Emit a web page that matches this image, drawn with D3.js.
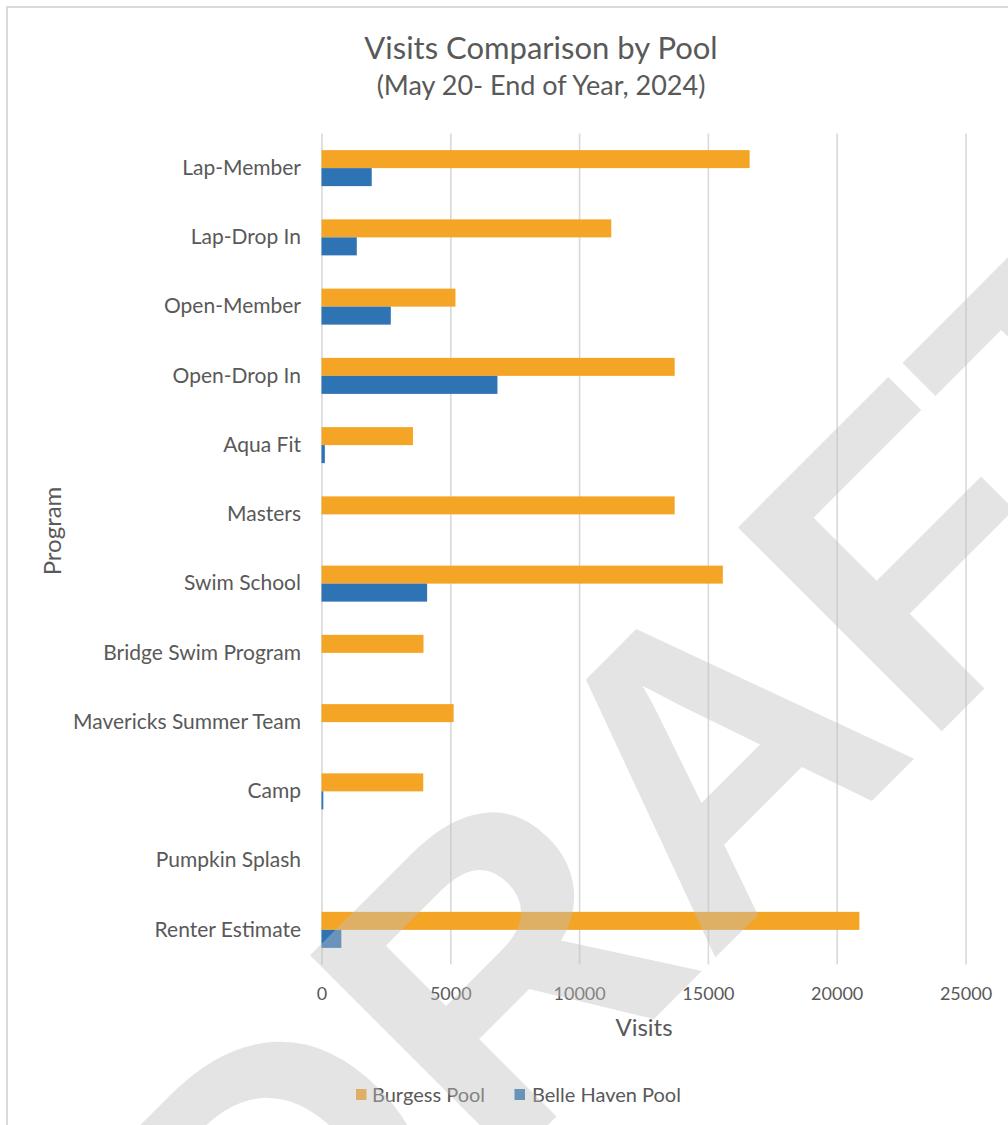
<!DOCTYPE html>
<html>
<head>
<meta charset="utf-8">
<script src="https://cdn.jsdelivr.net/npm/d3@7"></script>
<style>
  html, body { margin: 0; padding: 0; background: #fff; overflow: hidden; }
  svg { display: block; }
  text { font-family: Lato, "Noto Sans", sans-serif; fill: #595959; }
</style>
</head>
<body>
<script>
// Program visit counts, May 20 through end of 2024
const categories = [
  "Lap-Member", "Lap-Drop In", "Open-Member", "Open-Drop In", "Aqua Fit",
  "Masters", "Swim School", "Bridge Swim Program", "Mavericks Summer Team",
  "Camp", "Pumpkin Splash", "Renter Estimate"
];
const seriesNames = ["Burgess Pool", "Belle Haven Pool"];
const burgessVisits = [16620, 11250, 5200, 13710, 3550, 13710, 15580, 3960, 5130, 3950, 0, 20880];
const belleHavenVisits = [1950, 1370, 2690, 6830, 130, 0, 4100, 0, 0, 70, 0, 770];
const xTicks = [0, 5000, 10000, 15000, 20000, 25000];

const W = 1008, H = 1125;
const colors = { "Burgess Pool": "#F5A526", "Belle Haven Pool": "#2E74B5" };
const plot = { left: 321.5, right: 965.5, top: 133.5, bottom: 964.5 };

const svg = d3.select("body").append("svg").attr("width", W).attr("height", H);

// chart frame
svg.append("path")
  .attr("d", `M7,${H} L7,7 L${W},7`)
  .attr("fill", "none").attr("stroke", "#d9d9d9").attr("stroke-width", 2);

const g = svg.append("g");

const x = d3.scaleLinear().domain([0, 25000]).range([plot.left, plot.right]);
const y = d3.scaleBand().domain(categories).range([plot.top, plot.bottom])
  .paddingInner(0.48).paddingOuter(0.24);
const ySub = d3.scaleBand().domain(seriesNames).range([0, y.bandwidth()]);

// titles
g.append("text").attr("x", 541).attr("y", 59).attr("text-anchor", "middle")
  .attr("font-size", 31).text("Visits Comparison by Pool");
g.append("text").attr("x", 541).attr("y", 95).attr("text-anchor", "middle")
  .attr("font-size", 27).text("(May 20- End of Year, 2024)");

// vertical gridlines
const grid = g.append("g").attr("transform", `translate(0,${plot.bottom})`)
  .call(d3.axisBottom(x).tickValues(xTicks).tickSize(-(plot.bottom - plot.top)).tickFormat(""));
grid.select(".domain").remove();
grid.selectAll("line").attr("stroke", "#d9d9d9").attr("stroke-width", 1.6);

// bars
const rows = categories.map((c, i) => ({
  cat: c,
  values: [
    { name: "Burgess Pool", v: burgessVisits[i] },
    { name: "Belle Haven Pool", v: belleHavenVisits[i] }
  ]
}));
const groups = g.append("g").selectAll("g").data(rows).join("g")
  .attr("transform", d => `translate(0,${y(d.cat)})`);
groups.selectAll("rect").data(d => d.values.filter(e => e.v > 0)).join("rect")
  .attr("x", x(0))
  .attr("y", d => ySub(d.name))
  .attr("width", d => x(d.v) - x(0))
  .attr("height", ySub.bandwidth())
  .attr("fill", d => colors[d.name]);

// category axis
const yAxis = g.append("g").attr("transform", `translate(${plot.left},0)`)
  .call(d3.axisLeft(y).tickSize(0).tickPadding(20.5));
yAxis.select(".domain").remove();
yAxis.selectAll("text").attr("font-size", 21).attr("fill", "#595959")
  .style("font-family", "Lato, sans-serif");

// value axis
const xAxis = g.append("g").attr("transform", `translate(0,${plot.bottom})`)
  .call(d3.axisBottom(x).tickValues(xTicks).tickSize(0).tickPadding(22.5).tickFormat(d3.format("d")));
xAxis.select(".domain").remove();
xAxis.selectAll("text").attr("font-size", 18).attr("fill", "#595959")
  .style("font-family", "Lato, sans-serif");

// axis titles
g.append("text").attr("x", 644).attr("y", 1036).attr("text-anchor", "middle")
  .attr("font-size", 24).text("Visits");
g.append("text").attr("transform", "translate(61,531) rotate(-90)")
  .attr("text-anchor", "middle").attr("font-size", 24).text("Program");

// legend
const legendItems = [
  { name: "Burgess Pool", sx: 356, tx: 372 },
  { name: "Belle Haven Pool", sx: 514.5, tx: 532 }
];
const lg = g.append("g");
lg.selectAll("rect").data(legendItems).join("rect")
  .attr("x", d => d.sx).attr("y", 1089).attr("width", 10.5).attr("height", 11)
  .attr("fill", d => colors[d.name]);
lg.selectAll("text").data(legendItems).join("text")
  .attr("x", d => d.tx).attr("y", 1102).attr("font-size", 20)
  .text(d => d.name);

// DRAFT watermark across the chart
g.append("text")
  .attr("transform", "translate(782,891) rotate(-45)")
  .attr("x", 0).attr("y", 0)
  .attr("text-anchor", "middle")
  .style("font-family", "'Liberation Sans', Arial, sans-serif")
  .style("font-weight", "bold")
  .style("font-kerning", "none")
  .attr("font-size", 419)
  .style("fill", "#bebebe")
  .style("fill-opacity", 0.42)
  .text("DRAFT");
</script>
</body>
</html>
